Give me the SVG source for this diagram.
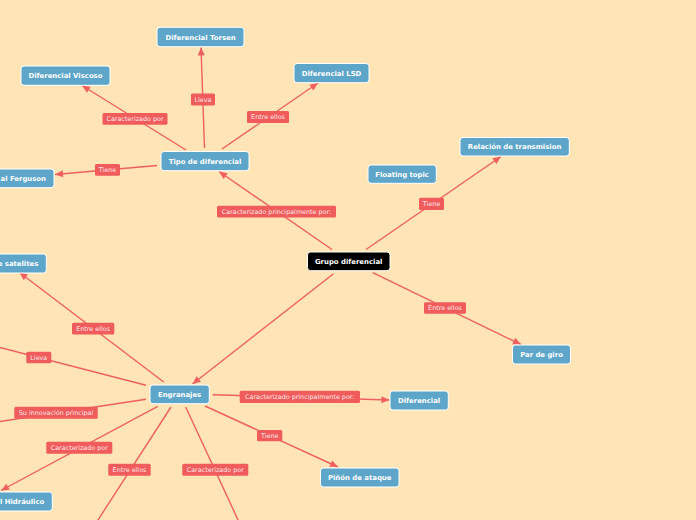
<svg xmlns="http://www.w3.org/2000/svg" width="696" height="520" viewBox="0 0 696 520">
<style>
.n rect{fill:#5da6c9;stroke:#ffffff;stroke-width:1}
.n text{fill:#ffffff;font-family:"DejaVu Sans",sans-serif;font-weight:bold;font-size:6.9px;text-anchor:middle}
.root rect{fill:#000000}
.l rect{fill:#f05b5b}
.l text{fill:#ffe9e9;font-family:"DejaVu Sans",sans-serif;font-size:6.4px;text-anchor:middle}
.c path{fill:none;stroke:#f05f5f;stroke-width:1.4}
</style>
<defs>
<marker id="a" markerUnits="userSpaceOnUse" markerWidth="10" markerHeight="10" viewBox="0 0 10 10" refX="9" refY="5" orient="auto">
<path d="M1,1.5 L9,5 L1,8.5 Z" fill="#f05f5f"/>
</marker>
</defs>
<rect width="696" height="520" fill="#ffe4b5"/>
<g id="connectors" class="c">
<path d="M204.5,148 L201,47.5" marker-end="url(#a)"/>
<path d="M186,150 L82,85.5" marker-end="url(#a)"/>
<path d="M222,149 L318,83" marker-end="url(#a)"/>
<path d="M157,165.5 L55,174.5" marker-end="url(#a)"/>
<path d="M332,249.5 L219,171.5" marker-end="url(#a)"/>
<path d="M366,249.5 L501,156.5" marker-end="url(#a)"/>
<path d="M372.7,272.7 L521,344.5" marker-end="url(#a)"/>
<path d="M333.5,273.7 L192.5,384" marker-end="url(#a)"/>
<path d="M163.7,382 L19.5,272.5" marker-end="url(#a)"/>
<path d="M146,385.3 L-10,345"/>
<path d="M146,399.3 L-10,423"/>
<path d="M157.7,406.3 L1,490.5" marker-end="url(#a)"/>
<path d="M171,407 L96.7,522"/>
<path d="M185.7,407 L239,522"/>
<path d="M212.7,394.7 L389.5,400" marker-end="url(#a)"/>
<path d="M205,406 L338,467" marker-end="url(#a)"/>
</g>
<g id="lbl-lleva1" class="l"><rect x="191" y="93.5" width="24" height="12" rx="1.5"/><text x="203" y="101.8">Lleva</text></g>
<g id="lbl-carac1" class="l"><rect x="102.5" y="113" width="65" height="11.7" rx="1.5"/><text x="135" y="121.2">Caracterizado por</text></g>
<g id="lbl-entre1" class="l"><rect x="247" y="111" width="42" height="12" rx="1.5"/><text x="268" y="119.3">Entre ellos</text></g>
<g id="lbl-tiene1" class="l"><rect x="95" y="164" width="25" height="11.7" rx="1.5"/><text x="107.5" y="172.2">Tiene</text></g>
<g id="lbl-caracprin1" class="l"><rect x="217" y="205.7" width="119" height="11.7" rx="1.5"/><text x="276.5" y="213.9">Caracterizado principalmente por:</text></g>
<g id="lbl-tiene2" class="l"><rect x="419" y="197.7" width="25" height="12.3" rx="1.5"/><text x="431.5" y="206.2">Tiene</text></g>
<g id="lbl-entre2" class="l"><rect x="424" y="302.3" width="42" height="11.4" rx="1.5"/><text x="445" y="310.3">Entre ellos</text></g>
<g id="lbl-entre3" class="l"><rect x="72" y="322.7" width="42.3" height="11.7" rx="1.5"/><text x="93.1" y="330.9">Entre ellos</text></g>
<g id="lbl-lleva2" class="l"><rect x="26.3" y="351.7" width="25" height="11.6" rx="1.5"/><text x="38.8" y="359.9">Lleva</text></g>
<g id="lbl-innov" class="l"><rect x="14.3" y="406.7" width="83.4" height="12" rx="1.5"/><text x="56" y="415">Su innovación principal</text></g>
<g id="lbl-carac2" class="l"><rect x="46.3" y="441.7" width="66" height="12" rx="1.5"/><text x="79.3" y="450">Caracterizado por</text></g>
<g id="lbl-entre4" class="l"><rect x="108.3" y="463.7" width="42.4" height="12" rx="1.5"/><text x="129.5" y="472">Entre ellos</text></g>
<g id="lbl-carac3" class="l"><rect x="182.3" y="463.7" width="66" height="12" rx="1.5"/><text x="215.3" y="472">Caracterizado por</text></g>
<g id="lbl-caracprin2" class="l"><rect x="239.7" y="390.7" width="120.3" height="12.3" rx="1.5"/><text x="299.8" y="399.1">Caracterizado principalmente por:</text></g>
<g id="lbl-tiene3" class="l"><rect x="257" y="430" width="25.3" height="11.3" rx="1.5"/><text x="269.7" y="438">Tiene</text></g>
<g id="n-torsen" class="n"><rect x="157" y="27.3" width="87" height="19.4" rx="3"/><text x="200.5" y="39.5">Diferencial Torsen</text></g>
<g id="n-viscoso" class="n"><rect x="21" y="66" width="89" height="19.3" rx="3"/><text x="65.5" y="78">Diferencial Viscoso</text></g>
<g id="n-lsd" class="n"><rect x="294" y="63.5" width="75" height="19.2" rx="3"/><text x="331.5" y="75.5">Diferencial LSD</text></g>
<g id="n-tipo" class="n"><rect x="161" y="151.5" width="88" height="19.2" rx="3"/><text x="205" y="163.6">Tipo de diferencial</text></g>
<g id="n-ferguson" class="n"><rect x="-46" y="169" width="100" height="18.7" rx="3"/><text x="46" y="180.8" style="text-anchor:end">al Ferguson</text></g>
<g id="n-floating" class="n"><rect x="368" y="165" width="68.3" height="18.3" rx="3"/><text x="402.1" y="176.6">Floating topic</text></g>
<g id="n-relacion" class="n"><rect x="460" y="137.5" width="109.3" height="18.5" rx="3"/><text x="514.6" y="149.2">Relación de transmision</text></g>
<g id="n-grupo" class="n root"><rect x="307.5" y="252" width="82.5" height="18.7" rx="3"/><text x="348.7" y="263.8">Grupo diferencial</text></g>
<g id="n-par" class="n"><rect x="512.5" y="345" width="58" height="19" rx="3"/><text x="541.5" y="356.9">Par de giro</text></g>
<g id="n-satelites" class="n"><rect x="-60" y="254" width="106.3" height="19" rx="3"/><text x="38.3" y="265.9" style="text-anchor:end">e satelites</text></g>
<g id="n-engranajes" class="n"><rect x="150" y="385" width="59.3" height="18.7" rx="3"/><text x="179.6" y="396.8">Engranajes</text></g>
<g id="n-diferencial" class="n"><rect x="390" y="391" width="58.3" height="19" rx="3"/><text x="419.1" y="402.9">Diferencial</text></g>
<g id="n-pinon" class="n"><rect x="320.5" y="468" width="78.5" height="19" rx="3"/><text x="359.7" y="479.9">Piñón de ataque</text></g>
<g id="n-hidraulico" class="n"><rect x="-60" y="492" width="112.3" height="19" rx="3"/><text x="44.3" y="503.9" style="text-anchor:end">l Hidráulico</text></g>
</svg>
